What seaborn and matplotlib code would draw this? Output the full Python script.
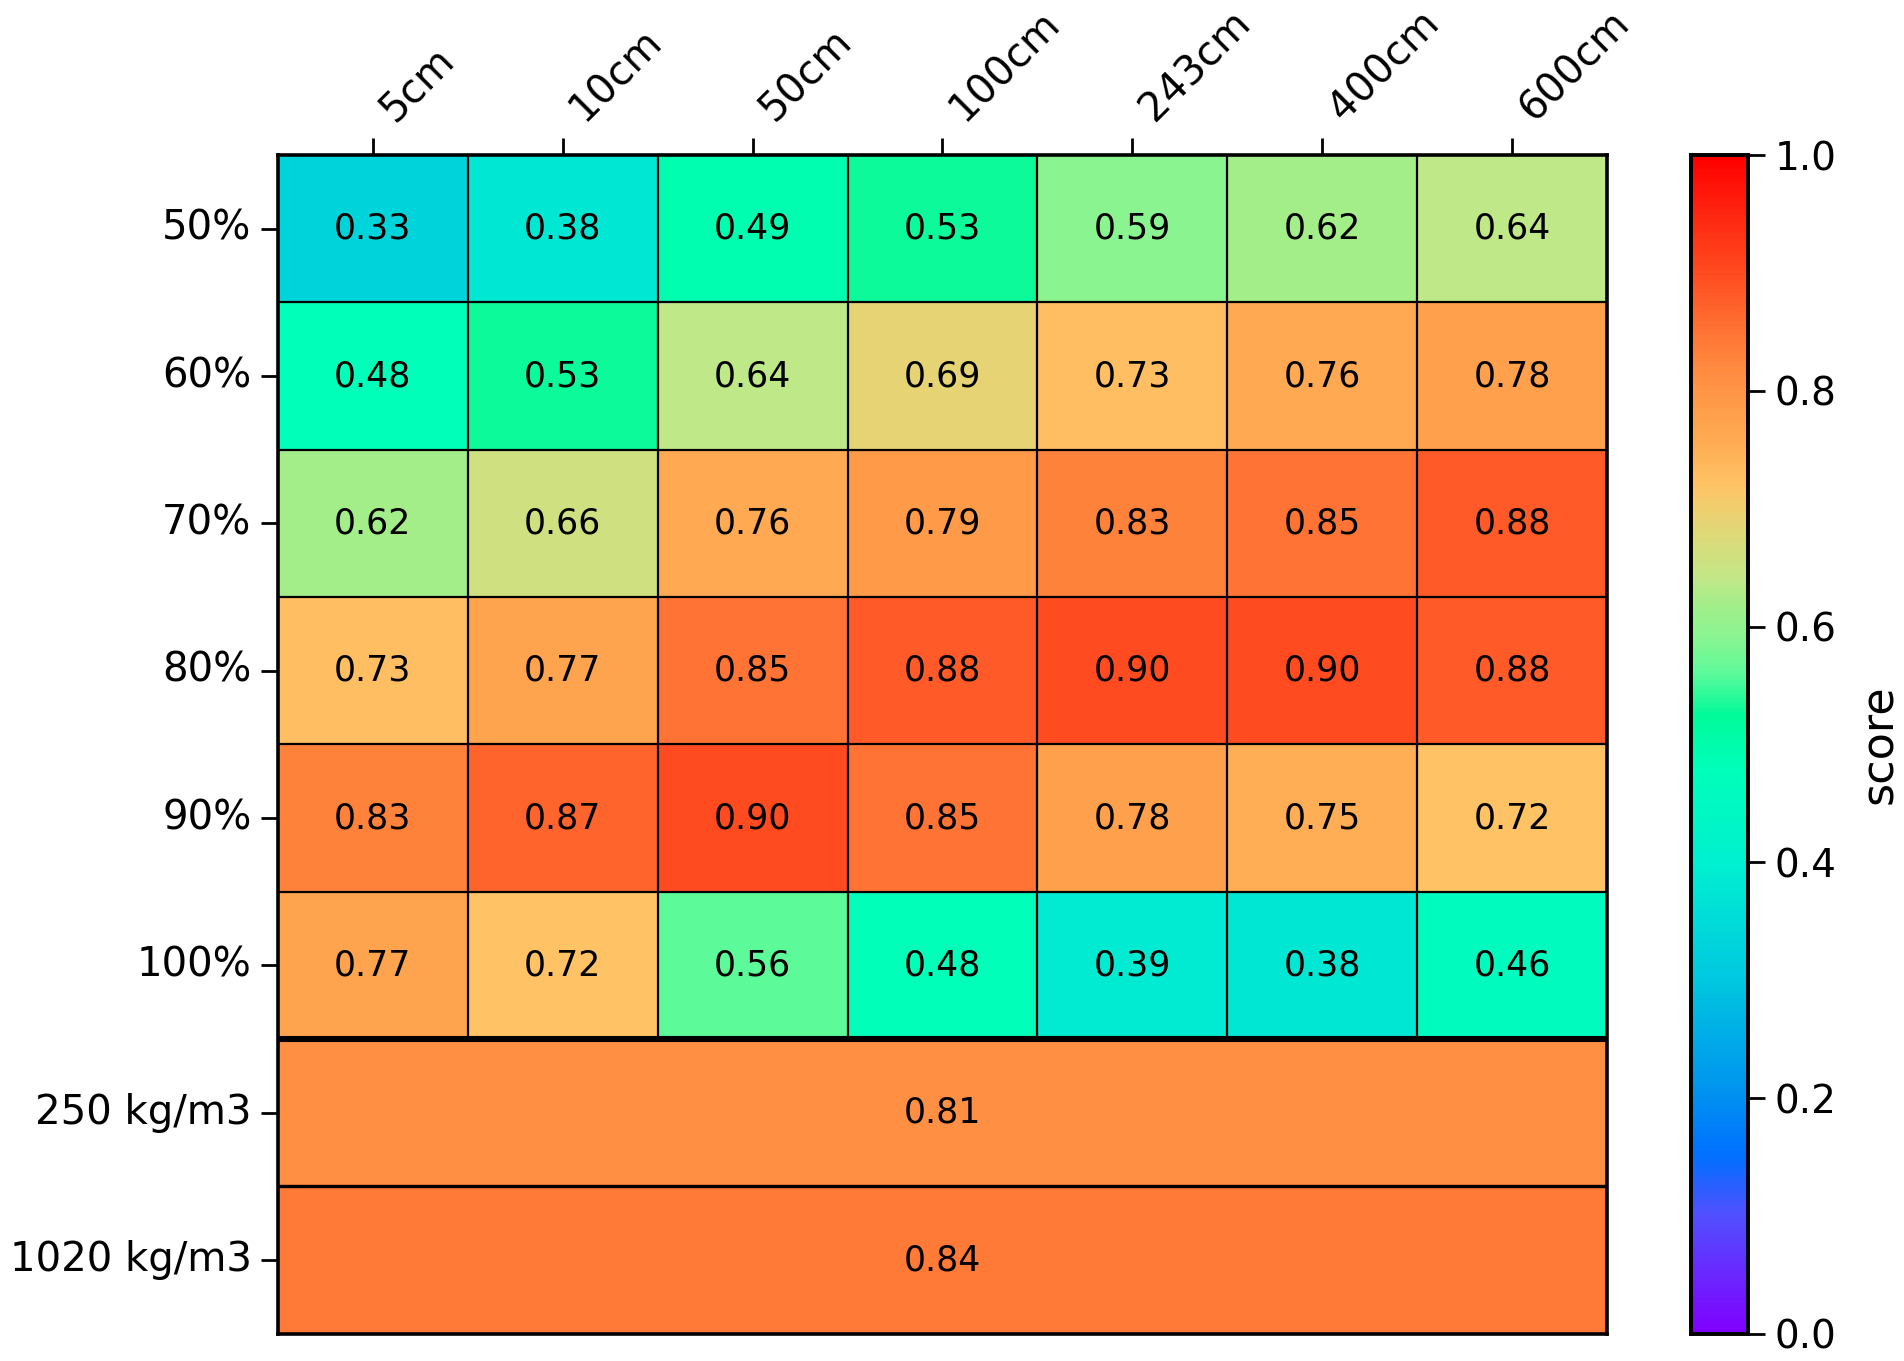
import numpy as np
import pandas as pd
import matplotlib
matplotlib.use('Agg')
import matplotlib.pyplot as plt
from matplotlib.colors import LinearSegmentedColormap
import seaborn as sns

# data
depths = ['5cm', '10cm', '50cm', '100cm', '243cm', '400cm', '600cm']
fractions = ['50%', '60%', '70%', '80%', '90%', '100%']
densities = ['250 kg/m3', '1020 kg/m3']

scores = [
    [0.33, 0.38, 0.49, 0.53, 0.59, 0.62, 0.64],
    [0.48, 0.53, 0.64, 0.69, 0.73, 0.76, 0.78],
    [0.62, 0.66, 0.76, 0.79, 0.83, 0.85, 0.88],
    [0.73, 0.77, 0.85, 0.88, 0.90, 0.90, 0.88],
    [0.83, 0.87, 0.90, 0.85, 0.78, 0.75, 0.72],
    [0.77, 0.72, 0.56, 0.48, 0.39, 0.38, 0.46],
]
density_scores = [0.81, 0.84]

# colour map close to the one in the picture
cmap_nodes = [
    (0.00, '#8000ff'), (0.10, '#5050ff'), (0.15, '#0070ff'), (0.20, '#0090f0'),
    (0.30, '#00c8e0'), (0.35, '#00dcd8'), (0.40, '#00f0d0'), (0.48, '#00ffb8'),
    (0.525, '#00fa9a'), (0.56, '#5cfa9a'), (0.59, '#88f591'), (0.62, '#a4ee8a'),
    (0.64, '#c0e888'), (0.66, '#d0e080'), (0.69, '#e6d474'), (0.72, '#ffc466'),
    (0.75, '#ffb056'), (0.78, '#ffa04c'), (0.81, '#ff9044'), (0.84, '#ff7c38'),
    (0.88, '#ff5c28'), (0.90, '#ff4c20'), (1.00, '#ff0000'),
]
score_cmap = LinearSegmentedColormap.from_list('score', cmap_nodes)

# full table: density rows repeat one value across all columns
table = np.array(scores + [[v] * len(depths) for v in density_scores])
df = pd.DataFrame(table, index=fractions + densities, columns=depths)

labels = [[f'{v:.2f}' for v in row] for row in scores]
mid = len(depths) // 2
for v in density_scores:
    labels.append(['' if j != mid else f'{v:.2f}' for j in range(len(depths))])
labels = np.array(labels)

plt.rcParams['font.family'] = ['DejaVu Sans']
fig = plt.figure(figsize=(9.52, 6.805), dpi=200)
ax = fig.add_axes([0.146, 0.020, 0.698, 0.866])
cax = fig.add_axes([0.888, 0.020, 0.030, 0.866])

sns.heatmap(df, ax=ax, cbar_ax=cax, cmap=score_cmap, vmin=0, vmax=1,
            annot=labels, fmt='', annot_kws={'size': 12.5, 'color': 'black'},
            linewidths=0, cbar_kws={'label': 'score'})

# cell borders: full grid on the top block, only row lines for the density rows
nrows, ncols = len(fractions), len(depths)
for j in range(1, ncols):
    ax.plot([j, j], [0, nrows], color='black', lw=0.8)
for i in range(1, nrows):
    ax.plot([0, ncols], [i, i], color='black', lw=0.8)
ax.plot([0, ncols], [nrows, nrows], color='black', lw=2.2)
ax.plot([0, ncols], [nrows + 1, nrows + 1], color='black', lw=1.2)

for s in ax.spines.values():
    s.set_visible(True)
    s.set_linewidth(1.3)
    s.set_color('black')

ax.xaxis.tick_top()
ax.set_xticklabels(depths, rotation=45, ha='left', fontsize=14.5)
ax.set_yticklabels(fractions + densities, rotation=0, fontsize=14.5)
ax.tick_params(axis='both', length=6, width=1, color='black')
ax.set_xlabel('')
ax.set_ylabel('')

cax.tick_params(labelsize=14, length=6, width=1)
cax.set_ylabel('score', fontsize=16, labelpad=8)
for s in cax.spines.values():
    s.set_visible(True)
    s.set_linewidth(1.3)

fig.savefig('out.png', dpi=200)
